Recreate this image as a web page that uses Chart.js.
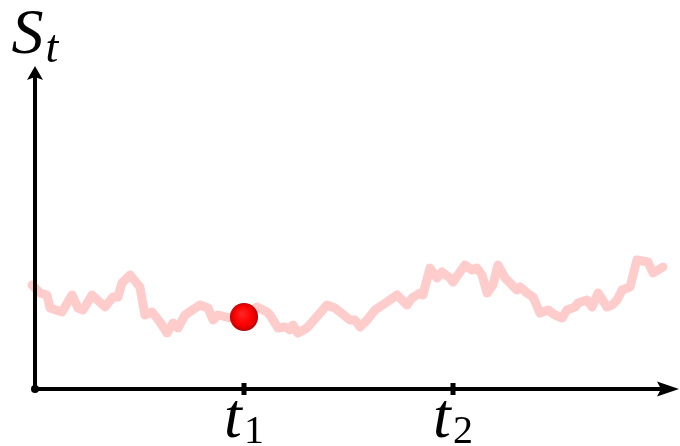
<!DOCTYPE html>
<html>
<head>
<meta charset="utf-8">
<script src="https://cdn.jsdelivr.net/npm/chart.js@4/dist/chart.umd.min.js"></script>
<style>
  html, body { margin: 0; padding: 0; background: #fff; }
  #pathChart { display: block; }
</style>
</head>
<body>
<canvas id="pathChart" width="680" height="446"></canvas>
<script>
// sample path of S_t
const times = [
  -0.014, 0.024, 0.057, 0.072, 0.129, 0.177, 0.206, 0.230, 0.273, 0.335,
  0.373, 0.397, 0.416, 0.455, 0.502, 0.526, 0.560, 0.598, 0.632, 0.660,
  0.684, 0.718, 0.789, 0.828, 0.852, 0.876, 0.933, 0.995, 1.062, 1.110,
  1.124, 1.163, 1.196, 1.220, 1.234, 1.258, 1.301, 1.364, 1.397, 1.435,
  1.507, 1.531, 1.555, 1.589, 1.627, 1.684, 1.732, 1.780, 1.804, 1.842,
  1.856, 1.890, 1.923, 1.947, 1.986, 2.000, 2.057, 2.091, 2.115, 2.139,
  2.163, 2.191, 2.215, 2.249, 2.306, 2.321, 2.354, 2.383, 2.416, 2.455,
  2.488, 2.522, 2.545, 2.584, 2.598, 2.641, 2.665, 2.694, 2.737, 2.761,
  2.785, 2.809, 2.847, 2.880, 2.933, 2.957, 3.005
];
const prices = [
  1.04, 0.96, 0.94, 0.81, 0.77, 0.94, 0.81, 0.79, 0.94, 0.82,
  0.92, 0.92, 1.06, 1.14, 1.02, 0.74, 0.77, 0.67, 0.56, 0.66,
  0.61, 0.74, 0.84, 0.81, 0.69, 0.74, 0.71, 0.71, 0.82, 0.77,
  0.74, 0.61, 0.62, 0.59, 0.64, 0.56, 0.61, 0.76, 0.84, 0.81,
  0.69, 0.69, 0.62, 0.69, 0.79, 0.87, 0.94, 0.84, 0.91, 0.96,
  0.94, 1.21, 1.11, 1.17, 1.11, 1.07, 1.24, 1.19, 1.21, 1.14,
  0.96, 1.04, 1.24, 1.11, 0.99, 1.02, 0.96, 0.92, 0.76, 0.79,
  0.74, 0.71, 0.79, 0.82, 0.86, 0.89, 0.82, 0.96, 0.82, 0.84,
  0.89, 0.99, 1.02, 1.29, 1.27, 1.16, 1.22
];

// observed point at t1
const markTime = [1.0];
const markPrice = [0.72];

const tickValues = [1, 2];
const tickLabels = [['t', '1'], ['t', '2']];
const axisLabel = ['S', 't'];

const SERIF = '"Liberation Serif", "DejaVu Serif", serif';

// shaded ball used as the marker
function makeBall(r) {
  const c = document.createElement('canvas');
  c.width = c.height = r * 2;
  const g = c.getContext('2d');
  const grad = g.createRadialGradient(r * 0.8, r * 0.7, 0, r, r, r);
  grad.addColorStop(0, '#ff2a2a');
  grad.addColorStop(0.65, '#ff0000');
  grad.addColorStop(0.9, '#d80000');
  grad.addColorStop(1, '#a80000');
  g.fillStyle = grad;
  g.beginPath();
  g.arc(r, r, r, 0, Math.PI * 2);
  g.fill();
  return c;
}

function drawMath(ctx, base, sub, x, y, bigSize, subSize, subDrop) {
  const bigFont = 'italic ' + bigSize + 'px ' + SERIF;
  const subFont = (isNaN(sub) ? 'italic ' : '') + subSize + 'px ' + SERIF;
  ctx.font = bigFont;
  const w1 = ctx.measureText(base).width;
  ctx.font = subFont;
  const w2 = ctx.measureText(sub).width;
  const left = x - (w1 + w2 + 2) / 2;
  ctx.font = bigFont;
  ctx.fillText(base, left, y);
  ctx.font = subFont;
  ctx.fillText(sub, left + w1 + 2, y + subDrop);
}

const axesPlugin = {
  id: 'arrowAxes',
  afterDatasetsDraw(chart) {
    const ctx = chart.ctx;
    const xs = chart.scales.x, ys = chart.scales.y;
    const x0 = xs.getPixelForValue(0);
    const y0 = ys.getPixelForValue(0);
    const xEnd = chart.width - 1;
    const yTop = 66;
    ctx.save();
    ctx.fillStyle = '#000';
    ctx.strokeStyle = '#000';
    ctx.lineWidth = 4;

    ctx.beginPath();
    ctx.moveTo(x0, y0);
    ctx.lineTo(xEnd - 18, y0);
    ctx.moveTo(x0, y0);
    ctx.lineTo(x0, yTop + 10);
    ctx.stroke();

    // arrow heads
    ctx.beginPath();
    ctx.moveTo(xEnd, y0);
    ctx.lineTo(xEnd - 22, y0 - 7.5);
    ctx.lineTo(xEnd - 18, y0);
    ctx.lineTo(xEnd - 22, y0 + 7.5);
    ctx.closePath();
    ctx.fill();

    ctx.beginPath();
    ctx.moveTo(x0, yTop);
    ctx.lineTo(x0 - 8, yTop + 14);
    ctx.lineTo(x0, yTop + 11);
    ctx.lineTo(x0 + 8, yTop + 14);
    ctx.closePath();
    ctx.fill();

    ctx.beginPath();
    ctx.arc(x0, y0, 4, 0, Math.PI * 2);
    ctx.fill();

    // ticks and labels
    ctx.textBaseline = 'alphabetic';
    ctx.textAlign = 'left';
    tickValues.forEach((v, i) => {
      const px = xs.getPixelForValue(v);
      ctx.fillRect(px - 2.5, y0 - 6, 5, 12);
      drawMath(ctx, tickLabels[i][0], tickLabels[i][1], px, 437, 64, 40, 6);
    });

    drawMath(ctx, axisLabel[0], axisLabel[1], x0, 53, 64, 46, 9);
    ctx.restore();
  }
};

function build() {
  new Chart(document.getElementById('pathChart'), {
    type: 'scatter',
    data: {
      datasets: [
        {
          label: 'mark',
          data: markTime.map((t, i) => ({ x: t, y: markPrice[i] })),
          pointStyle: makeBall(14),
          pointRadius: 14,
          order: 0
        },
        {
          label: 'path',
          data: times.map((t, i) => ({ x: t, y: prices[i] })),
          showLine: true,
          borderColor: '#ffcccc',
          borderWidth: 9,
          borderCapStyle: 'round',
          borderJoinStyle: 'round',
          pointRadius: 0,
          tension: 0,
          order: 1
        }
      ]
    },
    options: {
      responsive: false,
      animation: false,
      devicePixelRatio: 1,
      layout: { padding: 0, autoPadding: false },
      plugins: {
        legend: { display: false },
        tooltip: { enabled: false }
      },
      scales: {
        x: { type: 'linear', display: false, min: -0.1675, max: 3.0861 },
        y: { type: 'linear', display: false, min: -0.57, max: 3.89 }
      }
    },
    plugins: [axesPlugin]
  });
}

Promise.all([
  document.fonts.load('italic 64px "Liberation Serif"'),
  document.fonts.load('40px "Liberation Serif"')
]).then(build, build);
</script>
</body>
</html>
